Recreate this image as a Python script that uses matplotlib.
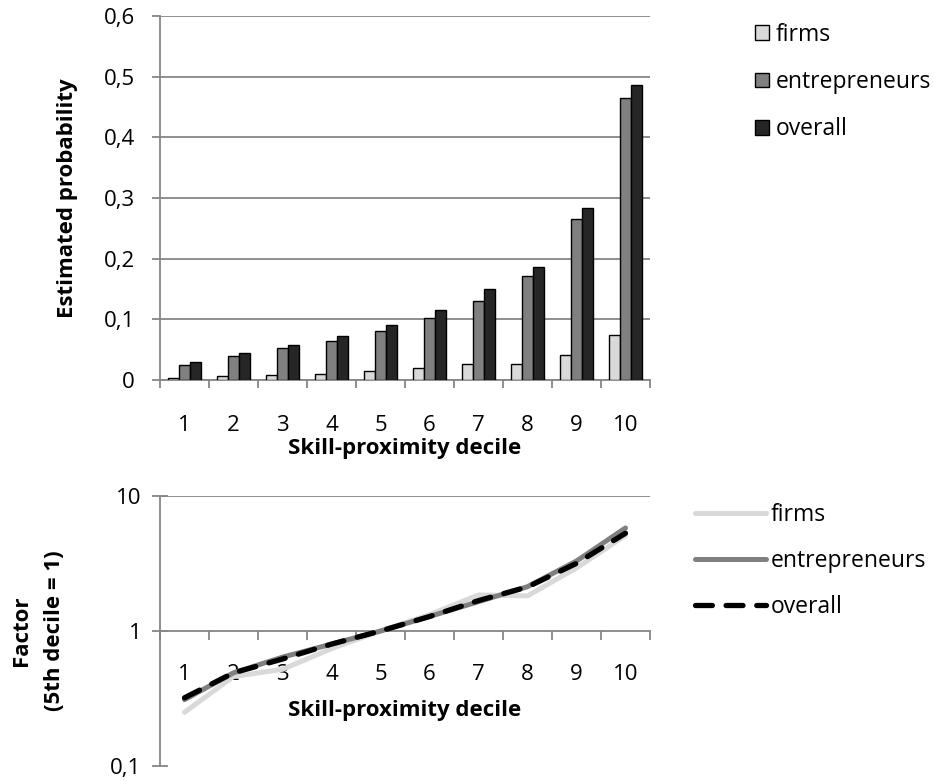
import numpy as np
import matplotlib
matplotlib.use('Agg')
import matplotlib.pyplot as plt
from matplotlib.ticker import FixedLocator, FuncFormatter, NullFormatter

plt.rcParams['font.family'] = ['Open Sans', 'DejaVu Sans']

# Datos
deciles = [1, 2, 3, 4, 5, 6, 7, 8, 9, 10]
series = ['firms', 'entrepreneurs', 'overall']

# Probabilidad estimada por decil
prob_firms = [0.004, 0.0066, 0.0078, 0.0104, 0.0143, 0.019, 0.026, 0.026, 0.042, 0.075]
prob_entrepreneurs = [0.025, 0.040, 0.052, 0.065, 0.081, 0.103, 0.131, 0.172, 0.265, 0.465]
prob_overall = [0.029, 0.045, 0.057, 0.0725, 0.090, 0.116, 0.150, 0.187, 0.283, 0.486]

# Factor relativo al 5o decil (escala log)
factor_firms = [0.25, 0.46, 0.52, 0.74, 1.0, 1.32, 1.85, 1.82, 2.93, 5.1]
factor_entrepreneurs = [0.31, 0.49, 0.64, 0.80, 1.0, 1.28, 1.65, 2.13, 3.3, 5.8]
factor_overall = [0.32, 0.49, 0.62, 0.80, 1.0, 1.28, 1.68, 2.12, 3.17, 5.3]

ytick_top = [0, 0.1, 0.2, 0.3, 0.4, 0.5, 0.6]
ytick_bottom = [0.1, 1, 10]

gris = '#868686'
fs = 16
fs_leg = 16.5

def coma(v, pos):
    s = ('%g' % v).replace('.', ',')
    return s

fig = plt.figure(figsize=(9.34, 7.8), dpi=100)
W, H = 934, 780

def eje(left, top, right, bottom):
    return fig.add_axes([left / W, 1 - bottom / H, (right - left) / W, (bottom - top) / H])

# ---- Grafica de barras ----
ax1 = eje(160, 16, 650, 380)
x = np.array(deciles)
w = 0.227
colores = ['#d9d9d9', '#808080', '#262626']
for i, (vals, c, lab) in enumerate(zip([prob_firms, prob_entrepreneurs, prob_overall], colores, series)):
    ax1.bar(x + (i - 1) * w, vals, width=w, color=c, edgecolor='black', linewidth=1.0, label=lab, zorder=3)

ax1.set_xlim(0.5, 10.5)
ax1.set_ylim(0, 0.6)
ax1.set_yticks(ytick_top)
ax1.yaxis.set_major_formatter(FuncFormatter(coma))
ax1.grid(axis='y', color=gris, linewidth=1.3, zorder=0)
ax1.set_axisbelow(True)
for s in ['top', 'right']:
    ax1.spines[s].set_visible(False)
for s in ['left', 'bottom']:
    ax1.spines[s].set_color(gris)
    ax1.spines[s].set_linewidth(1.3)
ax1.xaxis.set_major_locator(FixedLocator(deciles))
ax1.xaxis.set_minor_locator(FixedLocator(np.arange(0.5, 11, 1)))
ax1.xaxis.set_minor_formatter(NullFormatter())
ax1.tick_params(axis='x', which='major', length=0, pad=25, labelsize=fs)
ax1.tick_params(axis='x', which='minor', length=6, width=1.3, color=gris, direction='out')
ax1.tick_params(axis='y', length=6, width=1.3, color=gris, direction='out', pad=12, labelsize=fs)
ax1.set_xlabel('Skill-proximity decile', fontsize=fs, fontweight='bold')
ax1.xaxis.set_label_coords(0.5, -0.158)
fig.text(68 / W, 1 - 198 / H, 'Estimated probability', rotation=90, ha='center', va='center',
         fontsize=fs, fontweight='bold')
ax1.legend(loc='center left', bbox_to_anchor=(755 / W, 1 - 82 / H), bbox_transform=fig.transFigure,
           frameon=False, fontsize=fs_leg, handlelength=0.62, handleheight=0.62, handletextpad=0.3,
           labelspacing=1.02, borderpad=0, borderaxespad=0)

# ---- Grafica de lineas (log) ----
ax2 = eje(160, 496, 650, 766)
ax2.set_yscale('log')
ax2.set_xlim(0.5, 10.5)
ax2.set_ylim(0.1, 10)
ax2.plot(x, factor_firms, color='#d9d9d9', linewidth=3.6, label='firms', solid_capstyle='round', zorder=3)
ax2.plot(x, factor_entrepreneurs, color='#808080', linewidth=3.6, label='entrepreneurs', solid_capstyle='round', zorder=4)
ax2.plot(x, factor_overall, color='black', linewidth=3.8, dashes=(3.2, 2.6), dash_capstyle='round',
         label='overall', zorder=5)
ax2.axhline(10, color=gris, linewidth=1.3, zorder=0)
ax2.yaxis.set_major_locator(FixedLocator(ytick_bottom))
ax2.yaxis.set_minor_locator(FixedLocator([]))
ax2.yaxis.set_major_formatter(FuncFormatter(coma))
for s in ['top', 'right']:
    ax2.spines[s].set_visible(False)
ax2.spines['bottom'].set_position(('data', 1))
for s in ['left', 'bottom']:
    ax2.spines[s].set_color(gris)
    ax2.spines[s].set_linewidth(1.3)
ax2.xaxis.set_major_locator(FixedLocator(deciles))
ax2.xaxis.set_minor_locator(FixedLocator(np.arange(0.5, 11, 1)))
ax2.xaxis.set_minor_formatter(NullFormatter())
ax2.tick_params(axis='x', which='major', length=0, pad=24, labelsize=fs)
ax2.tick_params(axis='x', which='minor', length=6.5, width=1.3, color=gris, direction='out')
ax2.tick_params(axis='y', length=11, width=1.3, color=gris, direction='inout', pad=8, labelsize=fs)
ax2.set_xlabel('Skill-proximity decile', fontsize=fs, fontweight='bold')
ax2.xaxis.set_label_coords(0.5, 0.245)
fig.text(38 / W, 1 - 631 / H, 'Factor\n(5th decile = 1)', rotation=90, ha='center', va='center',
         fontsize=fs, fontweight='bold', linespacing=1.75, multialignment='center')
ax2.legend(loc='center left', bbox_to_anchor=(695 / W, 1 - 561 / H), bbox_transform=fig.transFigure,
           frameon=False, fontsize=fs_leg, handlelength=3.1, handletextpad=0.2,
           labelspacing=0.98, borderpad=0, borderaxespad=0)

fig.savefig('out.png', dpi=100)
